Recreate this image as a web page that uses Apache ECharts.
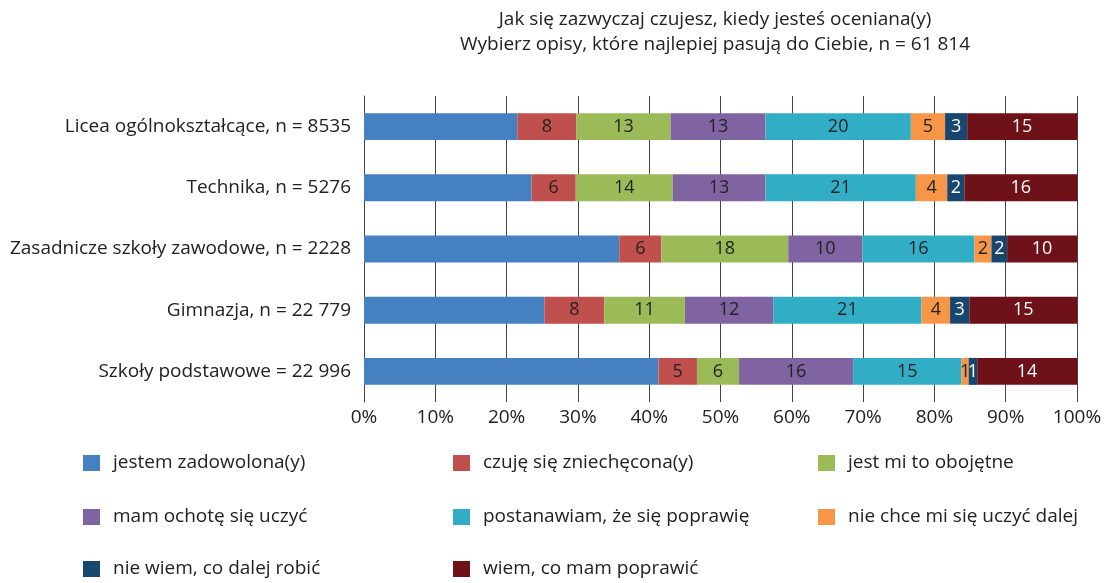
<!DOCTYPE html>
<html>
<head>
<meta charset="utf-8">
<script src="https://cdn.jsdelivr.net/npm/echarts@6/dist/echarts.min.js"></script>
<style>
  html, body { margin: 0; padding: 0; background: #fff; }
  #chart { width: 1109px; height: 583px; }
</style>
</head>
<body>
<div id="chart"></div>
<script>
// kategorie (od góry do dołu)
const categories = [
  'Licea ogólnokształcące, n = 8535',
  'Technika, n = 5276',
  'Zasadnicze szkoły zawodowe, n = 2228',
  'Gimnazja, n = 22 779',
  'Szkoły podstawowe = 22 996'
];

const seriesNames = [
  'jestem zadowolona(y)',
  'czuję się zniechęcona(y)',
  'jest mi to obojętne',
  'mam ochotę się uczyć',
  'postanawiam, że się poprawię',
  'nie chce mi się uczyć dalej',
  'nie wiem, co dalej robić',
  'wiem, co mam poprawić'
];

// wartości w % dla kolejnych kategorii
const zadowolona = [21.5, 23.5, 35.8, 25.3, 41.3];
const zniechecona = [8.3, 6.2, 5.9, 8.4, 5.4];
const obojetne = [13.2, 13.6, 17.8, 11.3, 5.9];
const ochota = [13.3, 13.0, 10.4, 12.4, 16.0];
const poprawie = [20.4, 21.1, 15.7, 20.8, 15.2];
const nieChce = [4.8, 4.4, 2.4, 4.0, 1.0];
const nieWiem = [3.1, 2.4, 2.2, 2.7, 1.2];
const wiem = [15.4, 15.8, 9.8, 15.1, 14.0];

const values = [zadowolona, zniechecona, obojetne, ochota, poprawie, nieChce, nieWiem, wiem];
const colors = ['#4581C1', '#C0504D', '#9BBB59', '#8064A2', '#31AEC6', '#F79646', '#17466F', '#6E1119'];
const labelColors = [null, '#222', '#222', '#222', '#222', '#222', '#fff', '#fff'];

const xTicks = [0, 10, 20, 30, 40, 50, 60, 70, 80, 90, 100];

const font = '"Open Sans", sans-serif';
const chart = echarts.init(document.getElementById('chart'));

const series = values.map((data, i) => ({
  name: seriesNames[i],
  type: 'bar',
  stack: 'total',
  barWidth: '44%',
  data: data,
  itemStyle: { color: colors[i] },
  label: {
    show: i > 0,
    position: 'inside',
    color: labelColors[i] || '#222',
    fontFamily: font,
    fontSize: 18,
    formatter: p => Math.round(p.value)
  },
  emphasis: { disabled: true }
}));

// legenda: 3 kolumny x 3 wiersze, każdy element osobno
const legendPos = [
  [83, 453], [453, 453], [818, 453],
  [83, 507], [453, 507], [818, 507],
  [83, 559], [453, 559]
];
const legends = seriesNames.map((name, i) => ({
  orient: 'horizontal',
  left: legendPos[i][0],
  top: legendPos[i][1],
  padding: 0,
  itemWidth: 17,
  itemHeight: 16,
  icon: 'rect',
  data: [name],
  selectedMode: false,
  textStyle: { fontFamily: font, fontSize: 19, lineHeight: 20, color: '#222', padding: [0, 0, 0, 8] }
}));

chart.setOption({
  animation: false,
  title: {
    text: 'Jak się zazwyczaj czujesz, kiedy jesteś oceniana(y)\nWybierz opisy, które najlepiej pasują do Ciebie, n = 61 814',
    left: 715,
    top: 7,
    padding: 0,
    textAlign: 'center',
    textStyle: { fontFamily: font, fontSize: 19, fontWeight: 'normal', color: '#222', lineHeight: 25 }
  },
  legend: legends,
  grid: { left: 364, right: 32, top: 96, height: 306 },
  xAxis: {
    type: 'value',
    min: 0,
    max: 100,
    interval: 10,
    axisLine: { show: false },
    axisTick: { show: false },
    splitLine: { show: true, lineStyle: { color: '#444', width: 1 } },
    axisLabel: {
      fontFamily: font,
      fontSize: 19,
      color: '#222',
      margin: 6,
      formatter: v => xTicks.includes(v) ? v + '%' : ''
    }
  },
  yAxis: {
    type: 'category',
    inverse: true,
    data: categories,
    axisLine: { show: true, lineStyle: { color: '#444' } },
    axisTick: { show: false },
    axisLabel: { fontFamily: font, fontSize: 19, color: '#222', margin: 13 }
  },
  series: series
});
</script>
</body>
</html>
